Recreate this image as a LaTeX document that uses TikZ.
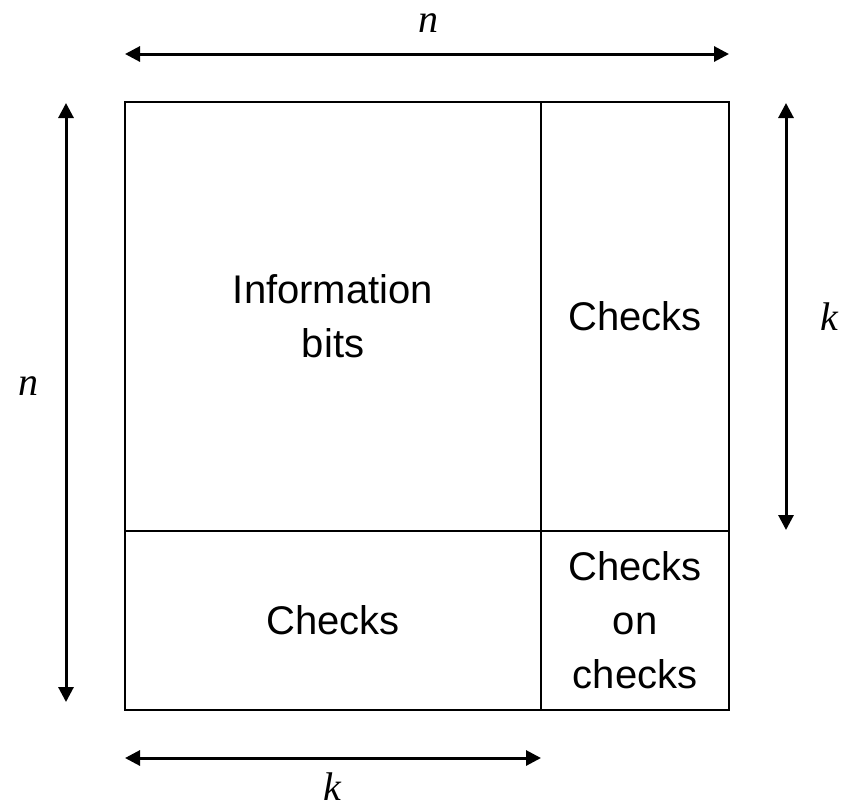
\documentclass[tikz,border=0pt]{standalone}
\usepackage{fontspec}
\setmainfont{Liberation Sans}
\newfontfamily\varfont{Liberation Serif}
\usetikzlibrary{arrows.meta}
\begin{document}
\begin{tikzpicture}[x=1pt,y=-1pt,
  cell/.style={draw=black,line width=2pt,inner sep=0pt,align=center,font=\fontsize{40}{54}\selectfont},
  dim/.style={line width=3pt,{Triangle[length=15pt,width=15pt]}-{Triangle[length=15pt,width=15pt]}},
  lab/.style={inner sep=0pt,anchor=base,text height=0.7em,text depth=0pt,font=\varfont\itshape\fontsize{40}{40}\selectfont}]
\useasboundingbox (0,0) rectangle (851,807);
\node[cell,minimum width=416pt,minimum height=429pt] (info) at (333,316.5) {Information\\bits};
\node[cell,minimum width=188pt,minimum height=429pt] (chr) at (635,316.5) {Checks};
\node[cell,minimum width=416pt,minimum height=179pt] (chb) at (333,620.5) {Checks};
\node[cell,minimum width=188pt,minimum height=179pt] (cc) at (635,620.5) {Checks\\on\\checks};
\coordinate (t1) at (125,54); \coordinate (t2) at (729,54);
\coordinate (l1) at (66,103); \coordinate (l2) at (66,702);
\coordinate (r1) at (786,103); \coordinate (r2) at (786,530);
\coordinate (b1) at (125,758); \coordinate (b2) at (541,758);
\draw[dim] (t1) -- (t2);
\draw[dim] (l1) -- (l2);
\draw[dim] (r1) -- (r2);
\draw[dim] (b1) -- (b2);
\node[lab] (nt) at (428,32) {n};
\node[lab] (nl) at (28,395) {n};
\node[lab] (kr) at (829,330) {k};
\node[lab] (kb) at (332,800) {k};
\end{tikzpicture}
\end{document}
